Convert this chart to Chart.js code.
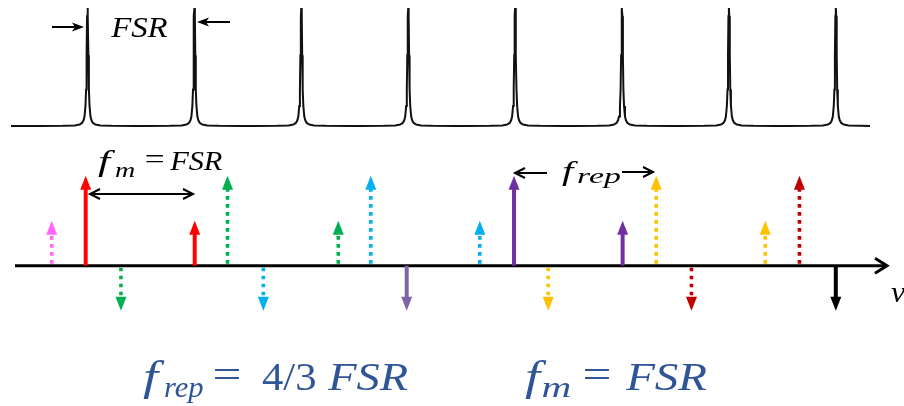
<!DOCTYPE html>
<html>
<head>
<meta charset="utf-8">
<script src="https://cdn.jsdelivr.net/npm/chart.js@4.4.1/dist/chart.umd.min.js"></script>
<style>
html,body{margin:0;padding:0;background:#fff;}
#wrap{width:904px;height:406px;position:relative;}
</style>
</head>
<body>
<div id="wrap"><canvas id="c"></canvas></div>
<script>
// ---------- DATA (frequencies in units of FSR) ----------
const resonanceOrders = [0, 1, 2, 3, 4, 5, 6, 7];
const traceStart = -0.716;
const traceEnd = 7.32;
// shape of one cavity resonance (offset from resonance, relative transmission)
const peakOffsets = [-0.45, -0.23, -0.12, -0.075, -0.051, -0.037, -0.028, -0.019, -0.013, -0.0084, -0.0042, 0,
                     0.0042, 0.0084, 0.013, 0.019, 0.028, 0.037, 0.051, 0.075, 0.12, 0.23, 0.45];
const peakHeights = [0.0004, 0.0013, 0.005, 0.012, 0.026, 0.048, 0.08, 0.17, 0.31, 0.6, 0.93, 1,
                     0.93, 0.6, 0.31, 0.17, 0.08, 0.048, 0.026, 0.012, 0.005, 0.0013, 0.0004];

// spectral lines of the comb and its sidebands
const lineFreqs  = [-0.335, -0.017, 0.313, 1.003, 1.31, 1.645, 2.346, 2.65, 2.986, 3.67, 3.99, 4.31, 5.006, 5.32, 5.65, 6.34, 6.66, 7.0];
const lineAmps   = [0.5, 1, -0.5, 0.5, 1, -0.5, 0.5, 1, -0.5, 0.5, 1, -0.5, 0.5, 1, -0.5, 0.5, 1, -0.5];
const lineColors = ['#FF66FF', '#FF0000', '#00B050', '#FF0000', '#00B050', '#00B0F0', '#00B050', '#00B0F0', '#8064A2',
                    '#00B0F0', '#7030A0', '#FFC000', '#7030A0', '#FFC000', '#C00000', '#FFC000', '#C00000', '#000000'];
const lineDotted = [true, false, true, false, true, true, true, true, false, true, false, true, false, true, true, true, true, false];

// ---------- build comb trace ----------
const combPoints = [{x: traceStart, y: 0}];
resonanceOrders.forEach(n => {
  peakOffsets.forEach((o, i) => {
    const x = n + o;
    if (x > traceStart && x < traceEnd) combPoints.push({x: x, y: peakHeights[i]});
  });
});
combPoints.push({x: traceEnd, y: 0});

const SERIF = '"Liberation Serif", "Times New Roman", serif';

// draw text so that its ink spans [x0, x1] horizontally, on the given baseline
function inkText(ctx, s, x0, x1, y, size, italic, color) {
  ctx.save();
  ctx.font = (italic ? 'italic ' : '') + size + 'px ' + SERIF;
  ctx.fillStyle = color;
  ctx.textBaseline = 'alphabetic';
  ctx.textAlign = 'left';
  const m = ctx.measureText(s);
  const L = m.actualBoundingBoxLeft, R = m.actualBoundingBoxRight;
  const k = (x1 - x0) / (L + R);
  ctx.translate(x0 + L * k, y);
  ctx.scale(k, 1);
  ctx.fillText(s, 0, 0);
  ctx.restore();
}

function chevron(ctx, x, y, dir, len, half) {
  ctx.beginPath();
  ctx.moveTo(x - dir * len, y - half);
  ctx.lineTo(x, y);
  ctx.lineTo(x - dir * len, y + half);
  ctx.stroke();
}

function thinArrow(ctx, x0, x1, y, filled) {
  const dir = Math.sign(x1 - x0);
  ctx.save();
  ctx.strokeStyle = '#000';
  ctx.fillStyle = '#000';
  ctx.lineWidth = 2;
  ctx.beginPath();
  ctx.moveTo(x0, y);
  ctx.lineTo(x1 - dir * 3, y);
  ctx.stroke();
  if (filled) {
    ctx.beginPath();
    ctx.moveTo(x1, y);
    ctx.lineTo(x1 - dir * 12, y - 4.5);
    ctx.lineTo(x1 - dir * 9, y);
    ctx.lineTo(x1 - dir * 12, y + 4.5);
    ctx.closePath();
    ctx.fill();
  } else {
    ctx.lineJoin = 'miter';
    chevron(ctx, x1, y, dir, 10, 5);
  }
  ctx.restore();
}

const overlay = {
  id: 'overlay',
  afterDatasetsDraw(chart) {
    const ctx = chart.ctx;
    const xs = chart.scales.x, ys = chart.scales.yBot;
    const y0 = ys.getPixelForValue(0);

    // frequency axis
    ctx.save();
    ctx.strokeStyle = '#000';
    ctx.lineWidth = 3;
    ctx.beginPath();
    ctx.moveTo(15, y0);
    ctx.lineTo(886, y0);
    ctx.stroke();
    ctx.lineJoin = 'miter';
    chevron(ctx, 887, y0, 1, 12, 7.5);
    ctx.restore();

    // spectral lines
    lineFreqs.forEach((f, i) => {
      const x = xs.getPixelForValue(f);
      const y1 = ys.getPixelForValue(lineAmps[i]);
      const dir = Math.sign(y1 - y0);
      const H = 14, W = 5.5;
      ctx.save();
      ctx.strokeStyle = lineColors[i];
      ctx.fillStyle = lineColors[i];
      ctx.lineCap = 'butt';
      if (lineDotted[i]) {
        ctx.lineWidth = 3.6;
        ctx.setLineDash([3.6, 4.4]);
      } else {
        ctx.lineWidth = 4;
      }
      ctx.beginPath();
      ctx.moveTo(x, lineDotted[i] ? y0 + dir * 2 : y0);
      ctx.lineTo(x, y1 - dir * (H - 1));
      ctx.stroke();
      ctx.setLineDash([]);
      ctx.beginPath();
      ctx.moveTo(x - W, y1 - dir * H);
      ctx.lineTo(x + W, y1 - dir * H);
      ctx.lineTo(x, y1);
      ctx.closePath();
      ctx.fill();
      ctx.restore();
    });

    // FSR annotation on the cavity transmission
    thinArrow(ctx, 52, 84, 27, true);
    thinArrow(ctx, 230, 197, 22, true);
    inkText(ctx, 'FSR', 110, 168, 37, 29, true, '#000');

    // f_m = FSR annotation
    ctx.save();
    ctx.strokeStyle = '#000';
    ctx.lineWidth = 2;
    ctx.beginPath();
    ctx.moveTo(91, 194);
    ctx.lineTo(192, 194);
    ctx.stroke();
    chevron(ctx, 90, 194, -1, 10, 5);
    chevron(ctx, 193, 194, 1, 10, 5);
    ctx.restore();
    inkText(ctx, 'f', 98, 116, 171, 29, true, '#000');
    inkText(ctx, 'm', 115, 135, 177, 21, true, '#000');
    inkText(ctx, '=', 146, 163, 168, 27, false, '#000');
    inkText(ctx, 'FSR', 169, 223, 170, 27, true, '#000');

    // f_rep annotation
    thinArrow(ctx, 547, 515, 173, false);
    thinArrow(ctx, 622, 653, 172, false);
    inkText(ctx, 'f', 562, 578, 180, 28, true, '#000');
    inkText(ctx, 'rep', 577, 620, 183, 21, true, '#000');

    // axis label
    inkText(ctx, 'ν', 891, 906, 302, 30, true, '#000');

    // bottom relations
    const blue = '#2F5597';
    inkText(ctx, 'f', 143, 165, 390, 42, true, blue);
    inkText(ctx, 'rep', 165, 203, 397, 29, true, blue);
    inkText(ctx, '=', 215, 240, 388, 41, false, blue);
    inkText(ctx, '4/3', 262, 315, 390, 41, false, blue);
    inkText(ctx, 'FSR', 327, 408, 390, 41, true, blue);
    inkText(ctx, 'f', 525, 547, 390, 42, true, blue);
    inkText(ctx, 'm', 543, 570, 397, 29, true, blue);
    inkText(ctx, '=', 585, 610, 388, 41, false, blue);
    inkText(ctx, 'FSR', 625, 707, 390, 41, true, blue);
  }
};

new Chart(document.getElementById('c'), {
  type: 'line',
  data: {
    datasets: [{
      data: combPoints,
      yAxisID: 'yTop',
      borderColor: '#111',
      borderWidth: 2,
      pointRadius: 0,
      tension: 0,
      fill: false,
      clip: false
    }]
  },
  options: {
    responsive: true,
    maintainAspectRatio: false,
    animation: false,
    events: [],
    layout: {padding: 0},
    plugins: {legend: {display: false}, tooltip: {enabled: false}},
    scales: {
      x: {type: 'linear', min: -0.8185, max: 7.638, display: false},
      yTop: {type: 'linear', min: -2.3729, max: 1.0678, display: false},
      yBot: {type: 'linear', min: -1.559, max: 2.952, display: false}
    }
  },
  plugins: [overlay]
});
</script>
</body>
</html>
